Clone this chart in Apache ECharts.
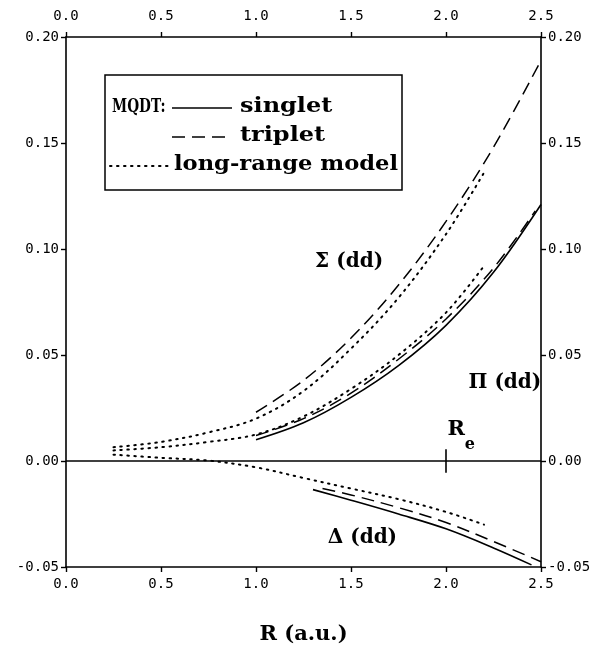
<!DOCTYPE html>
<html>
<head>
<meta charset="utf-8">
<script src="https://cdn.jsdelivr.net/npm/echarts@6/dist/echarts.min.js"></script>
<style>html,body{margin:0;background:#fff}#chart{width:606px;height:662px}</style>
</head>
<body>
<div id="chart"></div>
<script>
// values, R in a.u.
const rMqdt = [1.0, 1.25, 1.5, 1.75, 2.0, 2.25, 2.5];
const sigmaTriplet = [0.023, 0.038, 0.058, 0.083, 0.113, 0.148, 0.189];
const piSinglet = [0.010, 0.018, 0.030, 0.045, 0.064, 0.089, 0.121];
const rPiTriplet = [1.0, 1.25, 1.5, 1.75, 2.0, 2.25, 2.47];
const piTriplet = [0.012, 0.020, 0.032, 0.048, 0.067, 0.091, 0.118];
const rModel = [0.25, 0.5, 0.75, 1.0, 1.25, 1.5, 1.75, 2.0, 2.2];
const sigmaModel = [0.0065, 0.009, 0.0135, 0.020, 0.033, 0.053, 0.077, 0.107, 0.136];
const piModel = [0.005, 0.0065, 0.009, 0.0125, 0.021, 0.034, 0.050, 0.070, 0.092];
const deltaModel = [0.003, 0.0015, 0.0002, -0.003, -0.008, -0.013, -0.018, -0.024, -0.030];
const rDeltaSinglet = [1.3, 1.5, 1.75, 2.0, 2.25, 2.45];
const deltaSinglet = [-0.0135, -0.0185, -0.025, -0.032, -0.041, -0.049];
const rDeltaTriplet = [1.35, 1.5, 1.75, 2.0, 2.25, 2.5];
const deltaTriplet = [-0.013, -0.016, -0.022, -0.029, -0.038, -0.0475];

const zeroLine = [[0, 0], [2.5, 0]];
const reTick = [[2.0, -0.0055], [2.0, 0.0055]];
const notes = [
  [1.49, 0.094, 'Σ (dd)'],
  [2.31, 0.037, 'Π (dd)'],
  [1.56, -0.036, 'Δ (dd)'],
];
const reNote = [2.08, 0.012, 'Re'];

const xRange = { min: 0, max: 2.5, interval: 0.5 };
const yRange = { min: -0.05, max: 0.2, interval: 0.05 };

const serif = '"DejaVu Serif", serif';
const mono = '"DejaVu Sans Mono", monospace';

const pair = (xs, ys) => xs.map((x, i) => [x, ys[i]]);

const solid = { color: '#000', width: 1.6, type: 'solid' };
const dashed = { color: '#000', width: 1.5, type: [13, 7] };
const dotted = { color: '#000', width: 2, type: [1.5, 5.5], cap: 'round' };

function curve(name, data, lineStyle) {
  return {
    name,
    type: 'line',
    data,
    smooth: 0.35,
    symbol: 'none',
    lineStyle,
    silent: true,
    z: 3,
  };
}

const axisLine = { show: true, onZero: false, lineStyle: { color: '#000', width: 1.6 } };
const axisTick = { show: true, length: 5, lineStyle: { color: '#000', width: 1.4 } };

function xAxis(position) {
  return {
    type: 'value',
    position,
    ...xRange,
    axisLine,
    axisTick,
    splitLine: { show: false },
    axisLabel: {
      color: '#000', fontFamily: mono, fontSize: 14,
      margin: position === 'top' ? 14 : 10,
      formatter: (v) => v.toFixed(1),
    },
    name: position === 'bottom' ? 'R (a.u.)' : '',
    nameLocation: 'middle',
    nameGap: 57,
    nameTextStyle: { color: '#000', fontFamily: serif, fontWeight: 'bold', fontSize: 21 },
  };
}

function yAxis(position) {
  return {
    type: 'value',
    position,
    ...yRange,
    axisLine,
    axisTick,
    splitLine: { show: false },
    axisLabel: {
      color: '#000', fontFamily: mono, fontSize: 14, margin: 7,
      formatter: (v) => v.toFixed(2),
    },
  };
}

const legendText = { fill: '#000', fontFamily: serif, fontWeight: 'bold', fontSize: 20, verticalAlign: 'middle' };

function legendLabel(text, x, y, scaleX, fontSize) {
  return { type: 'text', x, y, scaleX, style: { text, ...legendText, fontSize: fontSize || 20 }, z: 11 };
}

const chart = echarts.init(document.getElementById('chart'));
chart.setOption({
  backgroundColor: '#fff',
  animation: false,
  grid: { left: 66, right: 65, top: 37, bottom: 95 },
  xAxis: [xAxis('bottom'), xAxis('top')],
  yAxis: [yAxis('left'), yAxis('right')],
  series: [
    curve('zero', zeroLine, { color: '#000', width: 1.6 }),
    curve('Re', reTick, { color: '#000', width: 1.6 }),
    curve('Σ triplet', pair(rMqdt, sigmaTriplet), dashed),
    curve('Σ model', pair(rModel, sigmaModel), dotted),
    curve('Π singlet', pair(rMqdt, piSinglet), solid),
    curve('Π triplet', pair(rPiTriplet, piTriplet), dashed),
    curve('Π model', pair(rModel, piModel), dotted),
    curve('Δ singlet', pair(rDeltaSinglet, deltaSinglet), solid),
    curve('Δ triplet', pair(rDeltaTriplet, deltaTriplet), dashed),
    curve('Δ model', pair(rModel, deltaModel), dotted),
    {
      type: 'scatter',
      data: notes,
      symbolSize: 0,
      silent: true,
      itemStyle: { opacity: 1 },
      label: {
        show: true, position: 'inside', color: '#000', opacity: 1,
        fontFamily: serif, fontWeight: 'bold', fontSize: 20,
        formatter: (p) => p.data[2],
      },
    },
    {
      type: 'scatter',
      data: [reNote],
      symbolSize: 0,
      silent: true,
      itemStyle: { opacity: 1 },
      label: {
        show: true, position: 'inside', color: '#000', opacity: 1,
        formatter: '{a|R}{b|e}',
        rich: {
          a: { color: '#000', fontFamily: serif, fontWeight: 'bold', fontSize: 21, lineHeight: 22, verticalAlign: 'top' },
          b: { color: '#000', fontFamily: serif, fontWeight: 'bold', fontSize: 16, lineHeight: 34, verticalAlign: 'bottom' },
        },
      },
    },
  ],
  graphic: [
    { type: 'rect', shape: { x: 105, y: 75, width: 297, height: 115 },
      style: { fill: '#fff', stroke: '#000', lineWidth: 1.5 }, z: 10 },
    legendLabel('MQDT:', 112, 107, 0.76, 18),
    { type: 'line', shape: { x1: 172, y1: 108, x2: 232, y2: 108 }, style: { stroke: '#000', lineWidth: 1.6 }, z: 11 },
    legendLabel('singlet', 240, 107, 1.2),
    { type: 'line', shape: { x1: 172, y1: 137, x2: 232, y2: 137 }, style: { stroke: '#000', lineWidth: 1.5, lineDash: [13, 7] }, z: 11 },
    legendLabel('triplet', 240, 136, 1.2),
    { type: 'line', shape: { x1: 110, y1: 166, x2: 168, y2: 166 }, style: { stroke: '#000', lineWidth: 2, lineDash: [1.5, 5.5], lineCap: 'round' }, z: 11 },
    legendLabel('long-range model', 174, 165, 1.13),
  ],
});
</script>
</body>
</html>
